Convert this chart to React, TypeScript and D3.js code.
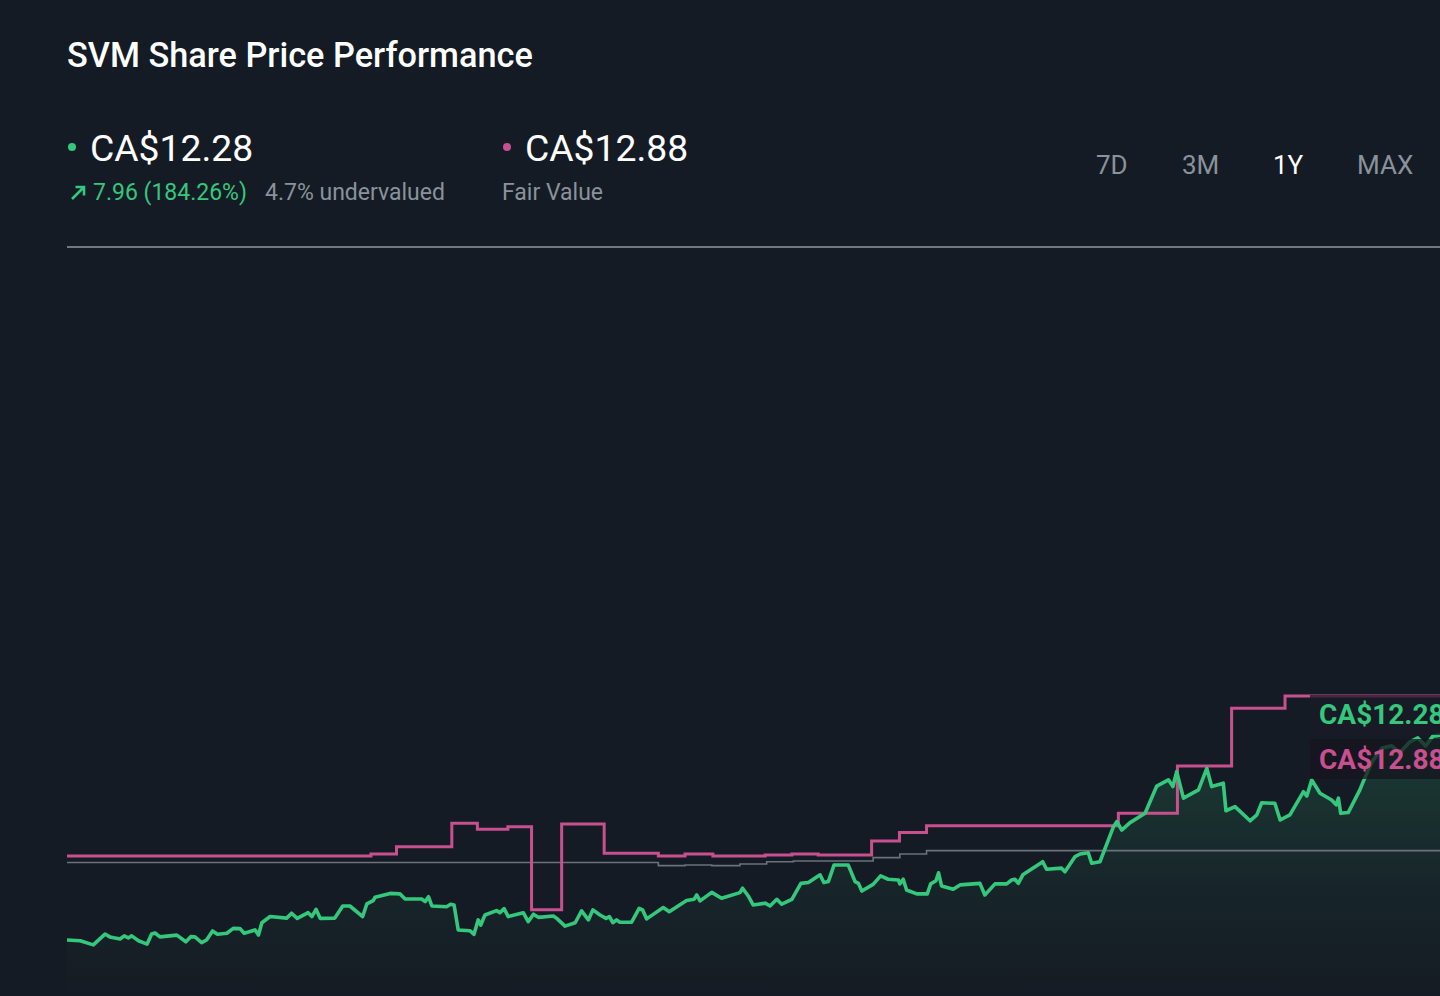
import React from 'react'
import * as d3 from 'd3'

// share price, day index (0 = one year ago) and CA$
const priceDay = [
	0, 3.5, 7, 10.1, 11.4, 14.1, 15.2, 16.3, 17.2, 19, 21.3, 22.5, 23.4, 24.7, 29.2, 31.6, 32.9, 34, 35.8, 37.1,
	38.7, 40, 42.5, 44.2, 46, 47.1, 50, 50.9, 51.8, 54, 58.4, 59.7, 61.2, 64.1, 65.1, 66.2, 67.3, 71.2, 73.3, 75.2,
	78.6, 79.7, 81.4, 81.9, 85.9, 88.5, 89.9, 94.3, 95.2, 96.1, 97, 100.9, 102, 102.9, 104, 107.1, 108.2, 109.3, 110, 111.1,
	114.2, 115.1, 116.2, 117.3, 121.3, 122.6, 124, 125.3, 129.3, 130.2, 132.4, 135.1, 136.8, 138.6, 139.8, 141.7, 143.3, 144.2, 145.1, 146.1,
	147, 150.1, 152.1, 153, 154.1, 158.5, 160.1, 164.7, 166.7, 167.4, 168.3, 171.4, 174, 178.9, 179.6, 181.1, 182.4, 185.6, 186.9, 188.7,
	190, 192.7, 195.1, 197.1, 200.2, 201.2, 202.4, 203.9, 207.7, 209.5, 210.4, 211.3, 214.3, 216.3, 218.3, 221, 221.4, 222.3, 223.2, 225.9,
	228.7, 229.6, 231, 231.7, 232.5, 235.6, 237.4, 242.7, 244, 246.7, 249.8, 251.1, 252, 252.9, 254.1, 259.4, 260.4, 264.4, 265.3, 268,
	269.3, 271.5, 272.4, 274.6, 278.2, 279.1, 280.4, 282.6, 286.6, 289.7, 292.8, 294, 295, 296.8, 300.8, 303, 304.3, 307.4, 308.1, 310.5,
	314.5, 316.3, 317.6, 321.1, 322.5, 325.1, 328.7, 329.6, 330.9, 333.1, 336.2, 337.4, 338, 338.6, 340.6, 343.7, 344.6, 346.9, 349.6, 352.2,
	354.3, 357, 359.1, 361.2, 363.1, 365
]
const price = [
	4.32, 4.29, 4.13, 4.55, 4.44, 4.36, 4.48, 4.4, 4.48, 4.29, 4.16, 4.55, 4.59, 4.44, 4.51, 4.25, 4.45, 4.44, 4.22, 4.32,
	4.67, 4.54, 4.58, 4.77, 4.76, 4.58, 4.71, 4.51, 4.99, 5.23, 5.17, 5.36, 5.16, 5.38, 5.23, 5.51, 5.16, 5.17, 5.64, 5.64,
	5.23, 5.72, 5.85, 5.98, 6.13, 6.11, 5.91, 5.91, 5.81, 6.0, 5.64, 5.61, 5.71, 5.68, 4.71, 4.68, 4.54, 5.1, 4.9, 5.29,
	5.46, 5.38, 5.54, 5.23, 5.38, 5.03, 5.32, 5.2, 5.25, 5.16, 4.86, 4.99, 5.45, 5.1, 5.49, 5.29, 5.16, 5.23, 4.99, 5.1,
	5.01, 5.01, 5.55, 5.49, 5.14, 5.58, 5.42, 5.85, 5.9, 6.07, 5.84, 6.17, 5.94, 6.16, 6.33, 6.03, 5.68, 5.75, 5.64, 5.9,
	5.71, 5.9, 6.52, 6.55, 6.85, 6.55, 6.59, 7.23, 7.23, 6.59, 6.52, 6.22, 6.48, 6.81, 6.68, 6.65, 6.5, 6.68, 6.26, 6.11,
	6.11, 6.5, 6.62, 6.93, 6.42, 6.29, 6.46, 6.52, 6.07, 6.5, 6.5, 6.65, 6.68, 6.52, 6.85, 7.36, 7.07, 7.11, 6.97, 7.56,
	7.66, 7.71, 7.3, 7.36, 8.72, 8.92, 8.59, 8.88, 9.24, 10.3, 10.54, 10.28, 10.86, 9.83, 10.15, 10.99, 10.28, 10.41, 9.34, 9.5,
	8.95, 9.18, 9.65, 9.63, 8.98, 9.18, 10.08, 9.91, 10.54, 10.02, 9.76, 9.57, 9.83, 9.24, 9.27, 10.15, 10.47, 11.24, 11.78, 11.86,
	11.59, 12.02, 12.17, 11.86, 12.24, 12.28
]

// fair value estimate (steps)
const fairValueDay = [0, 80.8, 87.6, 102.3, 109.1, 117.2, 123.5, 131.5, 142.8, 157.2, 164.3, 171.7, 185.6, 192.7, 199.7, 213.9, 221.3, 228.5, 279.5, 295.2, 309.6, 323.8, 365]
const fairValue = [7.58, 7.66, 7.94, 8.85, 8.62, 8.72, 5.49, 8.83, 7.69, 7.58, 7.66, 7.58, 7.62, 7.66, 7.62, 8.17, 8.5, 8.76, 9.24, 11.08, 13.32, 13.8, 13.8]

// grey reference line (steps)
const benchmarkDay = [0, 157.2, 164.3, 171.4, 178.9, 186, 193.1, 214.3, 221.4, 228.5, 365]
const benchmark = [7.33, 7.21, 7.23, 7.21, 7.27, 7.36, 7.39, 7.52, 7.66, 7.79, 7.79]

const ranges = ['7D', '3M', '1Y', 'MAX']
const activeRange = '1Y'

const W = 1440
const H = 996
const GREEN = '#35c77c'
const PINK = '#c8508f'
const GREY = '#8a929c'
const FONT = 'Roboto, "Noto Sans", sans-serif'

const App = () => {
	const x = d3.scaleLinear().domain([0, 365]).range([67, 1440])
	const y = d3.scaleLinear().domain([0, 31.2]).range([1051.2, 248])

	const pricePts = priceDay.map((d, i) => [d, price[i]] as [number, number])
	const fvPts = fairValueDay.map((d, i) => [d, fairValue[i]] as [number, number])
	const bmPts = benchmarkDay.map((d, i) => [d, benchmark[i]] as [number, number])

	const line = d3
		.line<[number, number]>()
		.x((d) => x(d[0]))
		.y((d) => y(d[1]))
	const stepLine = d3
		.line<[number, number]>()
		.x((d) => x(d[0]))
		.y((d) => y(d[1]))
		.curve(d3.curveStepAfter)
	const area = d3
		.area<[number, number]>()
		.x((d) => x(d[0]))
		.y0(H)
		.y1((d) => y(d[1]))

	const btnX = [1096, 1182, 1273, 1357]

	return (
		<svg
			width={W}
			height={H}
			style={{ position: 'absolute', left: 0, top: 0, display: 'block' }}
			fontFamily={FONT}
		>
			<defs>
				<linearGradient id="priceFill" gradientUnits="userSpaceOnUse" x1="0" y1="720" x2="0" y2={H}>
					<stop offset="0" stopColor={GREEN} stopOpacity={0.2} />
					<stop offset="0.6" stopColor={GREEN} stopOpacity={0.06} />
					<stop offset="1" stopColor={GREEN} stopOpacity={0} />
				</linearGradient>
			</defs>
			<rect width={W} height={H} fill="#151b24" />

			{/* header */}
			<text x={67} y={67} fill="#fff" fontSize={34.3} fontWeight={500}>
				SVM Share Price Performance
			</text>
			<circle cx={72} cy={147} r={4} fill={GREEN} />
			<text x={90} y={161} fill="#fff" fontSize={37.3}>
				CA$12.28
			</text>
			<path d="M72 199 L84 187 M75.5 187 L84 187 L84 195.5" stroke={GREEN} strokeWidth={2.6} fill="none" />
			<text x={93} y={200} fill={GREEN} fontSize={23}>
				7.96 (184.26%)
			</text>
			<text x={265} y={200} fill={GREY} fontSize={23}>
				4.7% undervalued
			</text>
			<circle cx={507} cy={147} r={4} fill={PINK} />
			<text x={525} y={161} fill="#fff" fontSize={37.3}>
				CA$12.88
			</text>
			<text x={502} y={200} fill={GREY} fontSize={23}>
				Fair Value
			</text>
			{ranges.map((r, i) => (
				<text key={r} x={btnX[i]} y={174} fill={r === activeRange ? '#fff' : GREY} fontSize={26}>
					{r}
				</text>
			))}
			<line x1={67} x2={W} y1={247} y2={247} stroke="#6e7782" strokeWidth={2} />

			{/* chart */}
			<path d={area(pricePts) || ''} fill="url(#priceFill)" />
			<path d={stepLine(bmPts) || ''} fill="none" stroke="#6b727c" strokeWidth={1.6} />
			<path d={stepLine(fvPts) || ''} fill="none" stroke={PINK} strokeWidth={3} />
			<path d={line(pricePts) || ''} fill="none" stroke={GREEN} strokeWidth={3.6} strokeLinejoin="round" />

			{/* end labels */}
			<rect x={1310} y={695} width={140} height={40} fill="#1a1b25" opacity={0.75} />
			<text x={1319} y={724} fill={GREEN} fontSize={28} fontWeight={700}>
				CA$12.28
			</text>
			<rect x={1310} y={739} width={140} height={40} fill="#15161e" opacity={0.75} />
			<text x={1319} y={769} fill={PINK} fontSize={28} fontWeight={700}>
				CA$12.88
			</text>
		</svg>
	)
}

export default App
